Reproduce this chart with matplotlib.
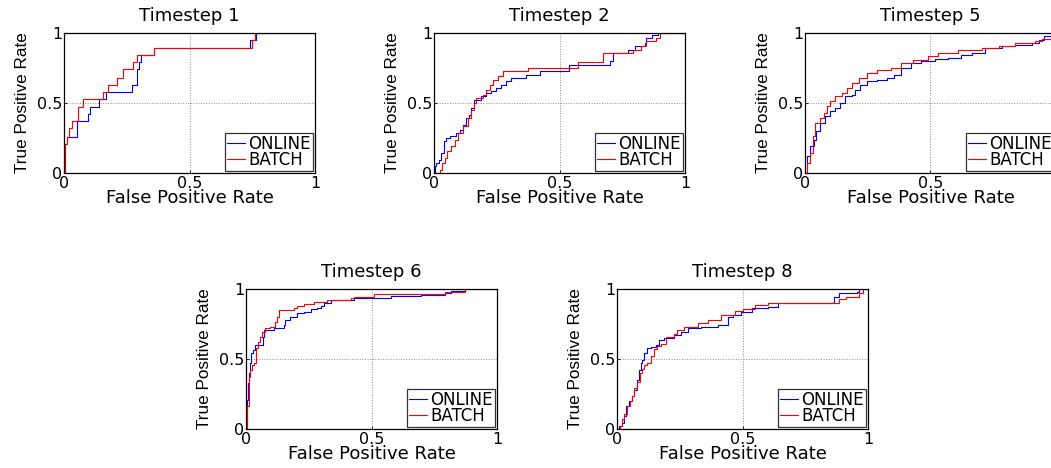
import matplotlib.pyplot as plt
import numpy as np

plt.rcParams['font.family'] = ['DejaVu Sans']

# ROC curves (FPR where the curve steps, TPR after the step)
titles = ["Timestep 1", "Timestep 2", "Timestep 5", "Timestep 6", "Timestep 8"]

t1_online_fpr = [0, 0.004, 0.005, 0.013, 0.052, 0.096, 0.102, 0.139, 0.166, 0.272, 0.292, 0.299, 0.308, 0.359, 0.74, 0.766, 1.0]
t1_online_tpr = [0, 0.10, 0.21, 0.26, 0.37, 0.42, 0.47, 0.53, 0.58, 0.63, 0.74, 0.79, 0.84, 0.89, 0.95, 1.0, 1.0]
t1_batch_fpr = [0, 0.003, 0.005, 0.013, 0.02, 0.03, 0.056, 0.076, 0.155, 0.175, 0.21, 0.235, 0.275, 0.292, 0.359, 0.75, 0.762, 1.0]
t1_batch_tpr = [0, 0.10, 0.21, 0.26, 0.32, 0.37, 0.47, 0.53, 0.58, 0.63, 0.68, 0.74, 0.79, 0.84, 0.89, 0.95, 1.0, 1.0]

t2_online_fpr = [0, 0.005, 0.009, 0.02, 0.029, 0.039, 0.049, 0.062, 0.086, 0.102, 0.116, 0.129, 0.139, 0.149, 0.158, 0.189, 0.208,
                 0.228, 0.248, 0.268, 0.288, 0.308, 0.368, 0.424, 0.538, 0.70, 0.713, 0.773, 0.80, 0.839, 0.846, 0.87, 0.892, 1.0]
t2_online_tpr = [0, 0.048, 0.071, 0.095, 0.143, 0.226, 0.25, 0.262, 0.286, 0.31, 0.345, 0.393, 0.417, 0.464, 0.524, 0.548, 0.571,
                 0.583, 0.607, 0.631, 0.655, 0.679, 0.702, 0.726, 0.769, 0.798, 0.857, 0.881, 0.905, 0.929, 0.964, 0.988, 1.0, 1.0]
t2_batch_fpr = [0, 0.016, 0.023, 0.033, 0.042, 0.052, 0.069, 0.082, 0.096, 0.116, 0.135, 0.149, 0.158, 0.169, 0.195, 0.208, 0.222,
                0.235, 0.255, 0.275, 0.375, 0.574, 0.673, 0.793, 0.826, 0.846, 0.886, 0.899, 1.0]
t2_batch_tpr = [0, 0.0, 0.024, 0.071, 0.107, 0.155, 0.19, 0.238, 0.286, 0.333, 0.393, 0.452, 0.5, 0.536, 0.56, 0.595, 0.631,
                0.667, 0.69, 0.726, 0.75, 0.79, 0.857, 0.881, 0.905, 0.94, 0.964, 1.0, 1.0]

t5_online_fpr = [0, 0.009, 0.02, 0.034, 0.044, 0.06, 0.08, 0.1, 0.121, 0.141, 0.161, 0.188, 0.201, 0.221, 0.248, 0.288, 0.328, 0.355,
                 0.382, 0.422, 0.462, 0.516, 0.57, 0.623, 0.664, 0.717, 0.784, 0.838, 0.905, 0.932, 0.952, 0.985, 1.0]
t5_online_tpr = [0, 0.119, 0.19, 0.238, 0.298, 0.357, 0.405, 0.44, 0.464, 0.5, 0.548, 0.56, 0.595, 0.631, 0.655, 0.667, 0.679, 0.702,
                 0.75, 0.786, 0.798, 0.814, 0.821, 0.845, 0.857, 0.893, 0.905, 0.917, 0.929, 0.952, 0.976, 1.0, 1.0]
t5_batch_fpr = [0, 0.009, 0.02, 0.031, 0.04, 0.06, 0.074, 0.087, 0.1, 0.121, 0.147, 0.168, 0.188, 0.214, 0.248, 0.288, 0.342, 0.382,
                0.429, 0.489, 0.529, 0.61, 0.704, 0.771, 0.838, 0.918, 0.945, 0.979, 1.0]
t5_batch_tpr = [0, 0.071, 0.143, 0.262, 0.357, 0.393, 0.429, 0.476, 0.512, 0.548, 0.571, 0.607, 0.643, 0.679, 0.714, 0.738, 0.75, 0.786,
                0.81, 0.833, 0.857, 0.881, 0.893, 0.905, 0.929, 0.94, 0.957, 1.0, 1.0]

t6_online_fpr = [0, 0.004, 0.008, 0.013, 0.017, 0.021, 0.028, 0.037, 0.068, 0.073, 0.111, 0.151, 0.157, 0.177, 0.204, 0.231, 0.257,
                 0.284, 0.297, 0.311, 0.337, 0.431, 0.577, 0.697, 0.791, 0.817, 0.871, 1.0]
t6_online_tpr = [0, 0.209, 0.328, 0.399, 0.47, 0.542, 0.565, 0.601, 0.66, 0.708, 0.72, 0.743, 0.779, 0.803, 0.827, 0.838, 0.855,
                 0.862, 0.879, 0.898, 0.922, 0.933, 0.952, 0.957, 0.974, 0.988, 1.0, 1.0]
t6_batch_fpr = [0, 0.005, 0.011, 0.017, 0.024, 0.033, 0.041, 0.048, 0.057, 0.064, 0.077, 0.097, 0.115, 0.124, 0.131, 0.191, 0.204,
                0.231, 0.271, 0.324, 0.417, 0.431, 0.511, 0.791, 0.871, 1.0]
t6_batch_tpr = [0, 0.162, 0.375, 0.423, 0.458, 0.47, 0.577, 0.625, 0.66, 0.696, 0.72, 0.732, 0.767, 0.803, 0.85, 0.862, 0.879,
                0.893, 0.91, 0.922, 0.933, 0.945, 0.964, 0.981, 1.0, 1.0]

t8_online_fpr = [0, 0.007, 0.02, 0.027, 0.034, 0.047, 0.06, 0.067, 0.078, 0.087, 0.094, 0.1, 0.107, 0.118, 0.134, 0.154, 0.168, 0.188,
                 0.228, 0.255, 0.282, 0.335, 0.402, 0.442, 0.462, 0.496, 0.536, 0.603, 0.643, 0.865, 0.885, 0.958, 0.965, 1.0]
t8_online_tpr = [0, 0.019, 0.043, 0.09, 0.162, 0.197, 0.233, 0.28, 0.352, 0.423, 0.47, 0.494, 0.542, 0.577, 0.589, 0.601, 0.637, 0.648,
                 0.672, 0.696, 0.72, 0.732, 0.743, 0.803, 0.815, 0.838, 0.862, 0.874, 0.898, 0.945, 0.969, 0.981, 1.0, 1.0]
t8_batch_fpr = [0, 0.013, 0.02, 0.027, 0.038, 0.051, 0.06, 0.067, 0.08, 0.091, 0.1, 0.107, 0.121, 0.134, 0.147, 0.161, 0.174, 0.194,
                0.228, 0.241, 0.268, 0.322, 0.362, 0.416, 0.469, 0.503, 0.55, 0.603, 0.885, 0.912, 0.965, 0.979, 1.0]
t8_batch_tpr = [0, 0.019, 0.071, 0.107, 0.162, 0.197, 0.233, 0.292, 0.333, 0.403, 0.43, 0.458, 0.47, 0.52, 0.57, 0.59, 0.61, 0.66,
                0.68, 0.71, 0.73, 0.755, 0.78, 0.815, 0.84, 0.86, 0.885, 0.9, 0.93, 0.945, 0.97, 1.0, 1.0]

online = [(t1_online_fpr, t1_online_tpr), (t2_online_fpr, t2_online_tpr), (t5_online_fpr, t5_online_tpr),
          (t6_online_fpr, t6_online_tpr), (t8_online_fpr, t8_online_tpr)]
batch = [(t1_batch_fpr, t1_batch_tpr), (t2_batch_fpr, t2_batch_tpr), (t5_batch_fpr, t5_batch_tpr),
         (t6_batch_fpr, t6_batch_tpr), (t8_batch_fpr, t8_batch_tpr)]

W, H = 1051, 468
# axes boxes in pixels: left, top
boxes = [(64, 33), (434, 33), (805, 33), (246, 289), (617, 289)]
aw, ah = 251, 140

fig = plt.figure(figsize=(W / 100, H / 100), dpi=100)

for i in range(5):
    l, t = boxes[i]
    ax = fig.add_axes([l / W, (H - t - ah) / H, aw / W, ah / H])
    ax.plot(online[i][0], online[i][1], color='blue', lw=0.8, drawstyle='steps-post', label='ONLINE')
    ax.plot(batch[i][0], batch[i][1], color='red', lw=0.8, drawstyle='steps-post', label='BATCH')
    ax.set_xlim(0, 1)
    ax.set_ylim(0, 1)
    ax.set_xticks([0, 0.5, 1])
    ax.set_yticks([0, 0.5, 1])
    ax.set_xticklabels(['0', '0.5', '1'])
    ax.set_yticklabels(['0', '0.5', '1'])
    ax.tick_params(direction='in', length=2.5, width=0.6, labelsize=11.5, pad=2)
    ax.tick_params(axis='y', pad=1)
    ax.grid(True, linestyle=':', color='0.55', lw=0.7)
    for s in ax.spines.values():
        s.set_linewidth(0.9)
    ax.set_title(titles[i], fontsize=13, pad=8.5)
    ax.set_xlabel('False Positive Rate', fontsize=13, labelpad=-1)
    ax.set_ylabel('True Positive Rate', fontsize=12.3, family='Liberation Sans', labelpad=5.5)
    leg = ax.legend(loc='lower right', fontsize=12, frameon=True, fancybox=False,
                    borderaxespad=0.12, borderpad=0.12, handlelength=1.1, handletextpad=0.2,
                    labelspacing=-0.1)
    leg.get_frame().set_edgecolor('black')
    leg.get_frame().set_linewidth(0.9)

plt.savefig('out.png', dpi=100)
